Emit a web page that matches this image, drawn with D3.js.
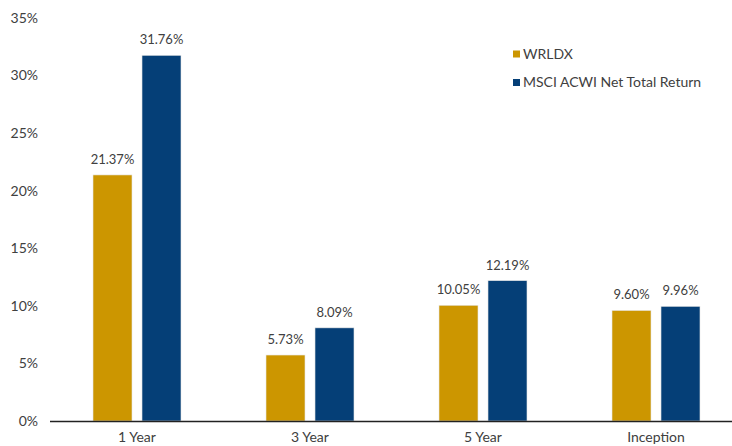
<!DOCTYPE html>
<html>
<head>
<meta charset="utf-8">
<script src="https://cdn.jsdelivr.net/npm/d3@7"></script>
<style>
  body { margin: 0; background: #fff; }
  svg { display: block; font-family: Lato, "Open Sans", sans-serif; }
</style>
</head>
<body>
<svg width="732" height="446"></svg>
<script>
// Annualized returns
var categories = ["1 Year", "3 Year", "5 Year", "Inception"];
var seriesNames = ["WRLDX", "MSCI ACWI Net Total Return"];
var wrldx = [21.37, 5.73, 10.05, 9.60];
var msci = [31.76, 8.09, 12.19, 9.96];
var yTicks = [0, 5, 10, 15, 20, 25, 30, 35];
var colors = ["#CC9600", "#053F77"];

var svgWidth = 732, svgHeight = 446;
var svg = d3.select("svg");

var x = d3.scaleBand()
    .domain(categories)
    .range([50.5, 742.5]);

var x1 = d3.scaleBand()
    .domain(seriesNames)
    .range([x.bandwidth() / 2 - 44, x.bandwidth() / 2 + 44])
    .paddingInner(0.204);

var y = d3.scaleLinear()
    .domain([0, 35])
    .range([421, 18]);

// y tick labels (no axis line)
svg.append("g")
    .selectAll("text")
    .data(yTicks)
    .enter()
    .append("text")
    .attr("x", 38)
    .attr("y", function(d) { return y(d); })
    .attr("dy", "0.35em")
    .attr("text-anchor", "end")
    .attr("font-size", 14)
    .attr("fill", "#404040")
    .text(function(d) { return d + "%"; });

var rows = categories.map(function(c, i) {
    return { cat: c, values: [wrldx[i], msci[i]] };
});

var groups = svg.selectAll(".grp")
    .data(rows)
    .enter()
    .append("g")
    .attr("class", "grp")
    .attr("transform", function(d) { return "translate(" + x(d.cat) + ",0)"; });

groups.selectAll("rect")
    .data(function(d) { return d.values.map(function(v, j) { return { name: seriesNames[j], v: v, j: j }; }); })
    .enter()
    .append("rect")
    .attr("x", function(d) { return x1(d.name); })
    .attr("y", function(d) { return y(d.v); })
    .attr("width", x1.bandwidth())
    .attr("height", function(d) { return y(0) - y(d.v); })
    .attr("fill", function(d) { return colors[d.j]; })
    .attr("stroke", "#e6e6e6")
    .attr("stroke-width", 0.6);

groups.selectAll("text")
    .data(function(d) { return d.values.map(function(v, j) { return { name: seriesNames[j], v: v }; }); })
    .enter()
    .append("text")
    .attr("x", function(d) { return x1(d.name) + x1.bandwidth() / 2; })
    .attr("y", function(d) { return y(d.v) - 11; })
    .attr("text-anchor", "middle")
    .attr("font-size", 13)
    .attr("fill", "#404040")
    .text(function(d) { return d.v.toFixed(2) + "%"; });

// x axis baseline
svg.append("line")
    .attr("x1", 50)
    .attr("x2", svgWidth)
    .attr("y1", y(0) + 0.5)
    .attr("y2", y(0) + 0.5)
    .attr("stroke", "#222")
    .attr("stroke-width", 1.5);

svg.append("g")
    .selectAll("text")
    .data(categories)
    .enter()
    .append("text")
    .attr("x", function(d) { return x(d) + x.bandwidth() / 2; })
    .attr("y", 442)
    .attr("text-anchor", "middle")
    .attr("font-size", 14)
    .attr("fill", "#404040")
    .text(function(d) { return d; });

// legend
var legend = svg.append("g")
    .selectAll("g")
    .data(seriesNames)
    .enter()
    .append("g")
    .attr("transform", function(d, i) { return "translate(513," + (54 + i * 28.5) + ")"; });

legend.append("rect")
    .attr("x", 0)
    .attr("y", -3.5)
    .attr("width", 7)
    .attr("height", 7)
    .attr("fill", function(d, i) { return colors[i]; });

legend.append("text")
    .attr("x", 10)
    .attr("y", 0)
    .attr("dy", "0.35em")
    .attr("font-size", 14)
    .attr("fill", "#404040")
    .text(function(d) { return d; });
</script>
</body>
</html>
